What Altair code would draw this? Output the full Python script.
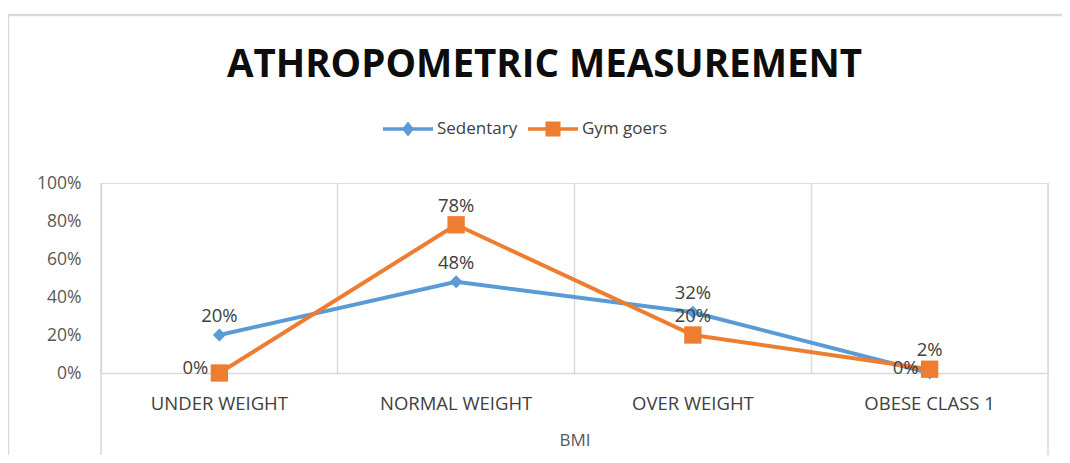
import altair as alt
import pandas as pd

categories = ["UNDER WEIGHT", "NORMAL WEIGHT", "OVER WEIGHT", "OBESE CLASS 1"]
series = ["Sedentary", "Gym goers"]
sedentary = [0.20, 0.48, 0.32, 0.00]
gym_goers = [0.00, 0.78, 0.20, 0.02]
y_ticks = [0, 0.2, 0.4, 0.6, 0.8, 1.0]

rows = []
for s, vals in zip(series, [sedentary, gym_goers]):
    for c, v in zip(categories, vals):
        rows.append({"BMI": c, "series": s, "value": v})
df = pd.DataFrame(rows)

W, H = 947, 190
FONT = "Open Sans"
colors = ["#5B9BD5", "#ED7D31"]

x_enc = alt.X("BMI:N", sort=categories,
              scale=alt.Scale(paddingInner=0, paddingOuter=0),
              axis=alt.Axis(title="BMI", bandPosition=0, grid=True, gridColor="#d9d9d9",
                            gridWidth=1.5, ticks=False, domain=True, domainColor="#d9d9d9",
                            domainWidth=1.5, labelAngle=0, labelAlign="center",
                            labelFont=FONT, labelFontSize=18.5,
                            labelColor="#404040", labelPadding=30, titleFont=FONT,
                            titleFontSize=17, titleFontWeight="normal", titleColor="#595959",
                            titlePadding=20))
y_enc = alt.Y("value:Q", scale=alt.Scale(domain=[0, 1]),
              axis=alt.Axis(title=None, values=y_ticks, format=".0%", grid=False, ticks=False,
                            domain=False, labelFont=FONT, labelFontSize=17.5,
                            labelColor="#595959", labelPadding=20))

color_scale = alt.Scale(domain=series, range=colors)

# legend symbols: a short line with the marker in its middle
legend_paths = [
    "M-1,-0.07H1V0.07H-1ZM0,-0.3L0.24,0L0,0.3L-0.24,0Z",
    "M-1,-0.07H1V0.07H-1ZM-0.3,-0.3H0.3V0.3H-0.3Z",
]
legend = alt.Legend(title=None, orient="none", legendX=282, legendY=-79,
                    direction="horizontal", labelFont=FONT, labelFontSize=17,
                    labelColor="#404040", symbolSize=2500, symbolStrokeWidth=0,
                    symbolOpacity=1, labelOffset=4, columnPadding=10)

base = alt.Chart(df)

lines = base.mark_line(strokeWidth=4).encode(
    x=x_enc, y=y_enc,
    color=alt.Color("series:N", sort=series, scale=color_scale, legend=None),
    order=alt.Order("BMI_idx:Q"),
).transform_calculate(BMI_idx=f"indexof({categories}, datum.BMI)")

pts_sed = base.transform_filter(f"datum.series == '{series[0]}'").mark_point(
    filled=True, opacity=1, shape="diamond", size=170
).encode(x=x_enc, y=y_enc, color=alt.Color("series:N", sort=series, scale=color_scale, legend=None))

pts_gym = base.transform_filter(f"datum.series == '{series[1]}'").mark_point(
    filled=True, opacity=1, shape="square", size=300
).encode(x=x_enc, y=y_enc, color=alt.Color("series:N", sort=series, scale=color_scale, legend=None))

legend_layer = base.mark_point(filled=True, opacity=0).encode(
    x=x_enc, y=y_enc,
    color=alt.Color("series:N", sort=series, scale=color_scale, legend=legend),
    shape=alt.Shape("series:N", sort=series, scale=alt.Scale(domain=series, range=legend_paths), legend=legend),
)

labels_above = base.transform_filter("datum.value > 0").mark_text(
    baseline="bottom", dy=-9, font=FONT, fontSize=18.5, color="#404040"
).encode(x=x_enc, y=y_enc, text=alt.Text("value:Q", format=".0%"))

labels_left = base.transform_filter("datum.value == 0").mark_text(
    align="right", baseline="middle", dx=-11, dy=-5, font=FONT, fontSize=18.5, color="#404040"
).encode(x=x_enc, y=y_enc, text=alt.Text("value:Q", format=".0%"))

edge_left = base.transform_filter(f"datum.BMI == '{categories[0]}' && datum.series == '{series[0]}'").mark_rule(
    color="#d9d9d9", strokeWidth=1.5
).encode(x=alt.X("BMI:N", sort=categories, bandPosition=0), y=alt.value(0), y2=alt.value(H + 82))

edge_right = base.transform_filter(f"datum.BMI == '{categories[-1]}' && datum.series == '{series[0]}'").mark_rule(
    color="#d9d9d9", strokeWidth=1.5
).encode(x=alt.X("BMI:N", sort=categories, bandPosition=1), y=alt.value(0), y2=alt.value(H + 82))

frame_src = pd.DataFrame({"frame": [0]})
frame_top = alt.Chart(frame_src).mark_rule(color="#d9d9d9", strokeWidth=2.5).encode(
    x=alt.value(-93), x2=alt.value(W + 30), y=alt.value(-168))
frame_left = alt.Chart(frame_src).mark_rule(color="#d9d9d9", strokeWidth=2.5).encode(
    x=alt.value(-93), y=alt.value(-168), y2=alt.value(H + 90))

chart = alt.layer(
    frame_top, frame_left, edge_left, edge_right, legend_layer, lines, pts_sed, pts_gym,
    labels_above, labels_left
).properties(
    width=W, height=H,
    padding={"left": 93, "top": 175, "right": 14, "bottom": 82},
    autosize=alt.AutoSizeParams(type="none"),
    title=alt.TitleParams("ATHROPOMETRIC MEASUREMENT", font=FONT, fontSize=38.5,
                          fontWeight="bold", color="#0d0d0d", anchor="middle", dx=-30,
                          offset=-72),
).configure_view(stroke=None).configure(background="white")

chart.save("out.html", embed_options={"renderer": "svg", "actions": False})
